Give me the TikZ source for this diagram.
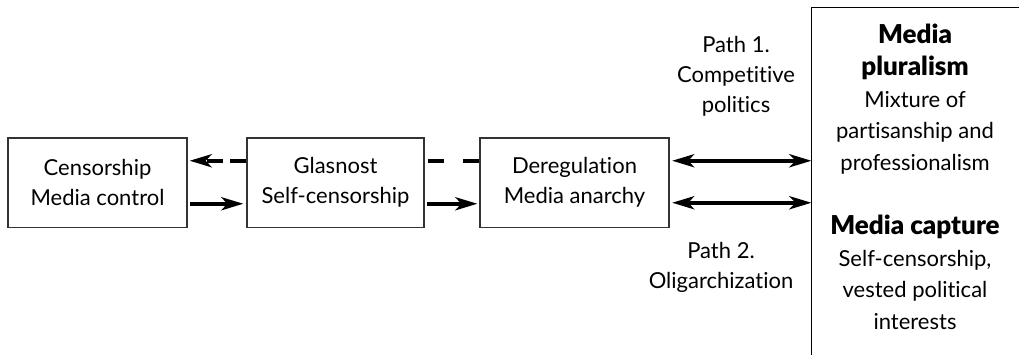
\documentclass[tikz,border=0pt]{standalone}
\usepackage{fontspec}
\setmainfont{Lato}[Ligatures=NoCommon]
\newfontfamily\heavyfont{Lato Black}[Ligatures=NoCommon]
\newcommand{\heading}[1]{{\heavyfont\fontsize{26}{31.8}\selectfont #1}}
\usetikzlibrary{arrows.meta}
\begin{document}
\begin{tikzpicture}[x=1pt,y=-1pt,
  boxline/.style={draw=black!80, line width=1.2pt},
  stage/.style={boxline, minimum width=#1, minimum height=89.5pt, inner sep=0pt,
    align=center, font=\fontsize{22}{30}\selectfont},
  lbl/.style={align=center, inner sep=0pt, font=\fontsize{22}{30}\selectfont},
  thick line/.style={line width=4.5pt},
  tip/.tip={Stealth[length=22pt,width=13pt,inset=6pt]},
  flow/.style={thick line, -tip},
  both/.style={thick line, tip-tip}]
\useasboundingbox (0,0) rectangle (1019,354);

% stages of the transition
\node[stage=179pt] (ctrl)  at (97.5,182.75)  {Censorship\\Media control};
\node[stage=177pt] (glas)  at (335.5,182.75) {Glasnost\\Self-censorship};
\node[stage=189pt] (dereg) at (574.5,182.75) {Deregulation\\Media anarchy};

% outcome panel, open on the right and at the bottom
\node[minimum width=220pt, minimum height=360pt, inner sep=0pt, anchor=north west]
  (outcome) at (811.5,7.5) {};
\draw[boxline, draw=black] (outcome.north east) -- (outcome.north west) -- (outcome.south west);
\node[lbl, font=\fontsize{22}{31.8}\selectfont] (outtext) at (915,177)
  {\heading{Media}\\\heading{pluralism}\\Mixture of\\partisanship and\\professionalism\\[31.8pt]
   \heading{Media capture}\\Self-censorship,\\vested political\\interests};

% path labels
\node[lbl] (path1) at (736,76) {Path 1.\\Competitive\\politics};
\node[lbl] (path2) at (721,267) {Path 2.\\Oligarchization};

% connectors between the stages
\draw[flow, dash pattern=on 16pt off 7pt, shorten >=2pt]
  ([yshift=22pt]glas.west) -- ([yshift=22pt]ctrl.east);
\draw[flow, shorten <=2pt, shorten >=3pt]
  ([yshift=-21pt]ctrl.east) -- ([yshift=-21pt]glas.west);
\draw[thick line, dash pattern=on 16pt off 19pt]
  ([yshift=22pt]dereg.west) -- ([yshift=22pt]glas.east);
\draw[flow, shorten <=2pt, shorten >=2pt]
  ([yshift=-21pt]glas.east) -- ([yshift=-21pt]dereg.west);

% the two paths to the outcome panel
\coordinate (p1) at ([yshift=22pt]dereg.east);
\coordinate (p2) at ([yshift=-20pt]dereg.east);
\draw[both, shorten <=2.5pt] (p1) -- (p1 -| outcome.west);
\draw[both, shorten <=2.5pt] (p2) -- (p2 -| outcome.west);
\end{tikzpicture}
\end{document}
